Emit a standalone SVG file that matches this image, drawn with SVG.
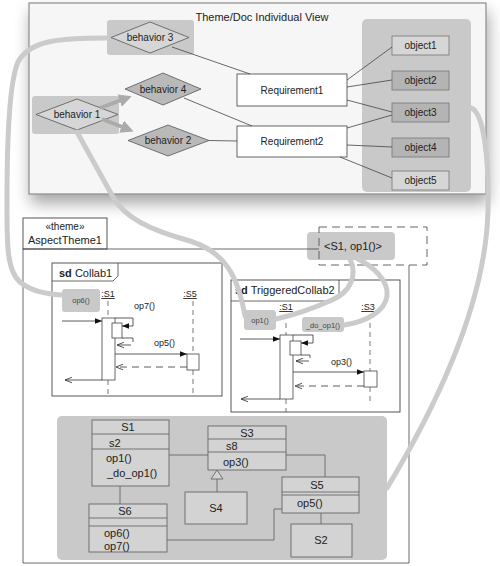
<svg xmlns="http://www.w3.org/2000/svg" width="500" height="566" viewBox="0 0 500 566">
<style>
text{font-family:"Liberation Sans",Arial,sans-serif;fill:#222}
.t11{font-size:11px}
.t10{font-size:10px}
.t9{font-size:9px}
.t8{font-size:7.5px;fill:#444}
.mid{text-anchor:middle}
.ln{stroke:#444;stroke-width:0.8;fill:none}
.box{fill:#fff;stroke:#555;stroke-width:0.9}
.grp{fill:#c9c9c9;stroke:none}
.dl{fill:#d6d6d6;stroke:#555;stroke-width:0.8}
.dd{fill:#b9b9b9;stroke:#555;stroke-width:0.8}
.ol{fill:#d6d6d6;stroke:#777;stroke-width:0.8}
.od{fill:#b4b4b4;stroke:#777;stroke-width:0.8}
.frm{fill:#fff;stroke:#444;stroke-width:0.9}
.life{stroke:#555;stroke-width:0.8;stroke-dasharray:5,4;fill:none}
.act{fill:#fff;stroke:#444;stroke-width:0.8}
.msg{stroke:#333;stroke-width:0.8;fill:none}
.ret{stroke:#333;stroke-width:0.8;fill:none;stroke-dasharray:7,5}
.cls{fill:#d3d3d3;stroke:#666;stroke-width:0.9}
.cl{stroke:#666;stroke-width:0.9;fill:none}
.weave{stroke:#cbcbcb;stroke-width:5;fill:none;stroke-linecap:round}
.garr{stroke:#ababab;stroke-width:4;fill:none}
.tag{fill:#c9c9c9}
</style>
<defs>
<filter id="sh" x="-10%" y="-10%" width="125%" height="145%">
<feDropShadow dx="2" dy="9" stdDeviation="8" flood-color="#000" flood-opacity="0.35"/>
</filter>
<marker id="fa" viewBox="0 0 10 10" refX="10" refY="5" markerWidth="7" markerHeight="7" markerUnits="userSpaceOnUse" orient="auto"><path d="M0,1 L10,5 L0,9z" fill="#111"/></marker>
<marker id="oa" viewBox="0 0 10 10" refX="10" refY="5" markerWidth="7" markerHeight="7" markerUnits="userSpaceOnUse" orient="auto"><path d="M0,1 L10,5 L0,9" fill="none" stroke="#333" stroke-width="1.2"/></marker>
<marker id="ga" viewBox="0 0 10 10" refX="7" refY="5" markerWidth="13" markerHeight="13" markerUnits="userSpaceOnUse" orient="auto"><path d="M0,0 L10,5 L0,10z" fill="#ababab"/></marker>
</defs>
<rect width="500" height="566" fill="#fff"/>

<!-- Top view panel -->
<g id="view">
<rect x="29" y="3" width="457" height="191" fill="#f6f6f6" stroke="#777" stroke-width="1" filter="url(#sh)"/>
<text class="t11 mid" x="262" y="21">Theme/Doc Individual View</text>
</g>
<g id="objects-group"><rect class="grp" x="362" y="19" width="109" height="173" rx="5"/></g>
<g id="behavior3">
<rect class="grp" x="107" y="20" width="87" height="35" rx="3"/>
<polygon class="dl" points="111,37.5 150,22 189,37.5 150,53"/>
<text class="t10 mid" x="150" y="41">behavior 3</text>
</g>
<g id="behavior1">
<rect class="grp" x="32" y="96" width="87" height="38" rx="3"/>
<polygon class="dl" points="36,114.5 77,99 118,114.5 77,130"/>
<text class="t10 mid" x="77" y="118">behavior 1</text>
</g>
<g id="behavior4">
<polygon class="dd" points="125,89 163,73 201,89 163,105"/>
<text class="t10 mid" x="163" y="92.5">behavior 4</text>
</g>
<g id="behavior2">
<polygon class="dd" points="128,140.5 168,125 209,140.5 168,156"/>
<text class="t10 mid" x="168" y="144">behavior 2</text>
</g>
<g id="requirement1"><rect class="box" x="237" y="74" width="110" height="32"/><text class="t10 mid" x="292" y="94">Requirement1</text></g>
<g id="requirement2"><rect class="box" x="237" y="126" width="110" height="31"/><text class="t10 mid" x="292" y="145">Requirement2</text></g>
<g id="object1"><rect class="ol" x="392" y="36" width="57" height="19"/><text class="t10 mid" x="420.5" y="49">object1</text></g>
<g id="object2"><rect class="od" x="392" y="71" width="57" height="19"/><text class="t10 mid" x="420.5" y="84">object2</text></g>
<g id="object3"><rect class="od" x="392" y="103" width="57" height="19"/><text class="t10 mid" x="420.5" y="116">object3</text></g>
<g id="object4"><rect class="od" x="392" y="138" width="57" height="19"/><text class="t10 mid" x="420.5" y="151">object4</text></g>
<g id="object5"><rect class="ol" x="392" y="171" width="57" height="19"/><text class="t10 mid" x="420.5" y="184">object5</text></g>

<!-- Theme frame -->
<g id="aspecttheme1">
<rect class="frm" x="23" y="218" width="84" height="31"/>
<text class="t10 mid" x="65" y="230">«theme»</text>
<text class="t11 mid" x="65" y="244">AspectTheme1</text>
<path class="ln" d="M23,249 V563 H409 V265" stroke-width="0.9"/>
</g>
<g id="binding">
<rect class="tag" x="307" y="232" width="88" height="28" rx="4"/>
<path class="ln" d="M23,249 H319"/>
<rect x="319" y="227" width="108" height="38" fill="none" stroke="#555" stroke-width="0.9" stroke-dasharray="8,5"/>
<text class="t11 mid" x="353" y="250">&lt;S1, op1()&gt;</text>
</g>

<!-- Collab1 -->
<g id="collab1">
<rect class="frm" x="52" y="263" width="170" height="133"/>
<path class="ln" d="M52,281 H113 L118,276 V263"/>
<text class="t11" x="59" y="277"><tspan font-weight="bold">sd</tspan> Collab1</text>
<rect class="tag" x="62" y="289" width="38" height="23" rx="3"/>
<text class="t8 mid" x="81" y="303">op6()</text>
<text class="t9 mid" x="108" y="297" text-decoration="underline">:S1</text>
<text class="t9 mid" x="190" y="297" text-decoration="underline">:S5</text>
<path class="life" d="M108,301 V318 M108,380 V396"/>
<path class="life" d="M193,301 V354 M193,370 V396"/>
<rect class="act" x="102" y="318" width="13" height="62"/>
<rect class="act" x="112" y="323" width="10" height="15"/>
<rect class="act" x="187" y="354" width="12" height="16"/>
<text class="t9" x="134" y="309">op7()</text>
<text class="t9" x="154" y="346">op5()</text>
<path class="msg" d="M62,321 H102" marker-end="url(#fa)"/>
<path class="msg" d="M115,318 H133 V326 H122" marker-end="url(#fa)"/>
<path class="msg" d="M122,338 H133 V342"/>
<path class="msg" d="M131,345 H117" marker-end="url(#oa)"/>
<path class="msg" d="M115,354 H187" marker-end="url(#fa)"/>
<path class="ret" d="M187,367 H116" marker-end="url(#oa)"/>
<path class="msg" d="M102,380 H65" marker-end="url(#oa)"/>
</g>

<!-- TriggeredCollab2 -->
<g id="triggeredcollab2">
<rect class="frm" x="231" y="280" width="169" height="132"/>
<path class="ln" d="M231,301 H332 L339,294 V280"/>
<text class="t11" x="235" y="294"><tspan font-weight="bold">sd</tspan> TriggeredCollab2</text>
<rect class="tag" x="244" y="310" width="32" height="20" rx="3"/>
<text class="t8 mid" x="260" y="323">op1()</text>
<rect class="tag" x="302" y="317" width="42" height="15" rx="3"/>
<text class="t8 mid" x="323" y="328">_do_op1()</text>
<text class="t9 mid" x="286" y="310" text-decoration="underline">:S1</text>
<text class="t9 mid" x="368" y="310" text-decoration="underline">:S3</text>
<path class="life" d="M286,314 V335 M286,399 V412"/>
<path class="life" d="M370,314 V371 M370,387 V405"/>
<rect class="act" x="280" y="335" width="13" height="64"/>
<rect class="act" x="290" y="341" width="11" height="14"/>
<rect class="act" x="364" y="371" width="13" height="16"/>
<text class="t9" x="331" y="365">op3()</text>
<path class="msg" d="M240,339 H280" marker-end="url(#fa)"/>
<path class="msg" d="M293,335 H313 V343 H301" marker-end="url(#fa)"/>
<path class="msg" d="M301,355 H310 V358"/>
<path class="msg" d="M309,361 H296" marker-end="url(#oa)"/>
<path class="msg" d="M293,372 H364" marker-end="url(#fa)"/>
<path class="ret" d="M364,386 H295" marker-end="url(#oa)"/>
<path class="msg" d="M280,399 H241" marker-end="url(#oa)"/>
</g>

<!-- Class diagram -->
<g id="classpanel"><rect class="grp" x="57" y="416" width="330" height="144" rx="5" fill="#d3d3d3"/></g>
<g id="S1">
<rect class="cls" x="92" y="420" width="77" height="66"/>
<path class="cl" d="M92,434 H169 M92,449 H169"/>
<text class="t11 mid" x="128" y="431">S1</text>
<text class="t11" x="109" y="447">s2</text>
<text class="t11" x="106" y="462">op1()</text>
<text class="t11" x="107" y="477">_do_op1()</text>
</g>
<g id="S3">
<rect class="cls" x="208" y="426" width="78" height="44"/>
<path class="cl" d="M208,439 H286 M208,452 H286"/>
<text class="t11 mid" x="247" y="437">S3</text>
<text class="t11" x="226" y="450">s8</text>
<text class="t11" x="223" y="466">op3()</text>
</g>
<g id="S4">
<rect class="cls" x="185" y="492" width="62" height="32"/>
<text class="t11 mid" x="216" y="512">S4</text>
</g>
<g id="S6">
<rect class="cls" x="89" y="504" width="78" height="48"/>
<path class="cl" d="M89,518 H167 M89,526 H167"/>
<text class="t11 mid" x="125" y="515">S6</text>
<text class="t11" x="104" y="537">op6()</text>
<text class="t11" x="104" y="550">op7()</text>
</g>
<g id="S5">
<rect class="cls" x="282" y="477" width="77" height="36"/>
<path class="cl" d="M282,492 H359 M282,495 H359"/>
<text class="t11 mid" x="317" y="489">S5</text>
<text class="t11" x="297" y="507">op5()</text>
</g>
<g id="S2">
<rect class="cls" x="291" y="524" width="61" height="33"/>
<text class="t11 mid" x="321" y="544">S2</text>
</g>

<!-- Connectors -->
<g id="connectors">
<path class="ln" d="M172,47 L250,74"/>
<path class="ln" d="M184,98 L252,126"/>
<path class="ln" d="M209,140.5 L237,141"/>
<path class="ln" d="M347,80 L392,47"/>
<path class="ln" d="M347,87 L392,80"/>
<path class="ln" d="M347,100 L392,112"/>
<path class="ln" d="M347,128 L392,115"/>
<path class="ln" d="M347,145 L392,147"/>
<path class="ln" d="M340,157 L392,178"/>
<path class="garr" d="M100,108 L128,97.5" marker-end="url(#ga)"/>
<path class="garr" d="M102,119 L130,130" marker-end="url(#ga)"/>
<path class="cl" d="M169,455 H208"/>
<path class="cl" d="M120,486 V504"/>
<path class="cl" d="M167,540 H274 V509 H282"/>
<path class="cl" d="M286,455 H325 V477"/>
<path class="cl" d="M321,513 V524"/>
<path class="cl" d="M217,479 V492"/>
<polygon class="cls" points="217,470 211,479 223,479"/>
<path class="weave" d="M107,38 C 60,38 30,40 18,62 C 8,85 7,150 7,200 C 7,240 6,270 20,282 C 32,292 48,294 62,295"/>
<path class="weave" d="M77,132 L113,197 C 125,218 150,230 190,241 C 225,252 238,276 245,316"/>
<path class="weave" d="M350,259 C 358,276 350,292 332,300 C 312,309 294,315 276,319"/>
<path class="weave" d="M358,259 C 372,266 389,280 387,296 C 385,312 365,322 344,325"/>
<path class="weave" d="M471,108 C 484,112 489,160 488,210 C 486,300 440,400 387,488"/>
</g>
</svg>
